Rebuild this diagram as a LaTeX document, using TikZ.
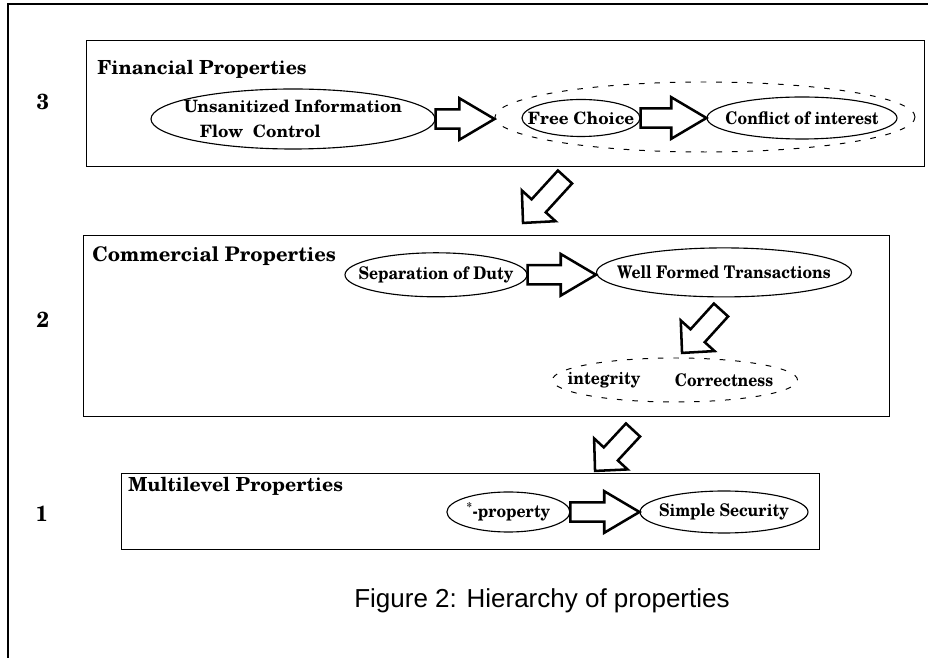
\documentclass[tikz,border=0pt]{standalone}
\usepackage{fontspec}
\usetikzlibrary{shapes.geometric,calc}
\newfontfamily\capfont{Liberation Sans}
\newfontfamily\schola{TeX Gyre Schola}
\newfontfamily\scholanarrow{TeX Gyre Schola}[FakeStretch=0.9]

\tikzset{
  box/.style={draw, line width=1pt, inner sep=0pt, anchor=north west},
  title/.style={font=\schola\bfseries\fontsize{13.8}{17}\selectfont, inner sep=0pt, anchor=base west},
  level/.style={font=\schola\bfseries\fontsize{15.5}{19}\selectfont, inner sep=0pt},
  oval/.style={ellipse, draw, line width=0.8pt, inner sep=-0.7cm, font=\scholanarrow\bfseries\fontsize{12.4}{17.8}\selectfont},
  wide/.style={font=\schola\bfseries\fontsize{12.1}{17.8}\selectfont},
  word/.style={font=\scholanarrow\bfseries\fontsize{12.4}{17.8}\selectfont, inner sep=0pt},
  group/.style={ellipse, draw, line width=0.7pt, dash pattern=on 4pt off 7pt, inner sep=0pt},
  fat/.style n args={2}{draw, fill=white, line width=1.8pt, line join=miter,
    to path={let \p1=(\tikztostart), \p2=(\tikztotarget),
      \n1={atan2(\y2-\y1,\x2-\x1)}, \n2={veclen(\x2-\x1,\y2-\y1)} in
      ([shift={(\p1)},rotate=\n1]0pt,0.24cm) -- ([shift={(\p1)},rotate=\n1]\n2-#1,0.24cm)
      -- ([shift={(\p1)},rotate=\n1]\n2-#1,#2) -- ([shift={(\p1)},rotate=\n1]\n2,0pt)
      -- ([shift={(\p1)},rotate=\n1]\n2-#1,-#2) -- ([shift={(\p1)},rotate=\n1]\n2-#1,-0.24cm)
      -- ([shift={(\p1)},rotate=\n1]0pt,-0.24cm) -- cycle}},
  hfat/.style={fat={0.88cm}{0.52cm}},
  dfat/.style={fat={0.58cm}{0.57cm}},
}

\begin{document}
\begin{tikzpicture}
    \useasboundingbox (0,0) rectangle (23.2,16.45);
    % % ----- frame ----- % %
    \draw [line width=1pt] (0.2,0) -- (0.2,16.35) -- (23.2,16.35);
    % % ----- levels ----- % %
    \node [box, minimum width=20.95cm, minimum height=3.15cm] (fin) at (2.15,15.45) {};	% level 3
    \node [box, minimum width=20.15cm, minimum height=4.525cm] (com) at (2.075,10.575) {};	% level 2
    \node [box, minimum width=17.45cm, minimum height=1.9cm] (mul) at (3.025,4.625) {};	% level 1
    \node [title] (fint) at (2.425,14.575) {Financial Properties};
    \node [title, font=\schola\bfseries\fontsize{14.3}{17}\selectfont] (comt) at (2.3,9.9) {Commercial Properties};
    \node [title] (mult) at (3.2,4.15) {Multilevel Properties};
    \node [level] (n3) at (1.075,13.9) {3};
    \node [level] (n2) at (1.075,8.45) {2};
    \node [level] (n1) at (1.05,3.6) {1};
    % % ----- properties ----- % %
    \node [group, minimum width=10.5cm, minimum height=1.75cm] (grp3) at (17.625,13.525) {};
    \node [oval, wide, align=left, minimum width=7.1cm, minimum height=1.5cm] (uifc) at (7.325,13.475)
        {Unsanitized Information\\\hspace*{0.4cm}Flow\ \ Control};
    \node [oval, wide, minimum width=2.95cm, minimum height=0.925cm] (fc) at (14.525,13.5) {Free Choice};
    \node [oval, minimum width=4.75cm, minimum height=1.05cm] (coi) at (20.05,13.5) {Conflict of interest};
    \node [oval, minimum width=4.55cm, minimum height=1.1cm] (sod) at (10.9,9.58) {Separation of Duty};
    \node [oval, minimum width=6.375cm, minimum height=1.225cm] (wft) at (18.1,9.64) {Well Formed Transactions};
    \node [group, minimum width=6.125cm, minimum height=1.1cm] (grp2) at (16.875,6.95) {};
    \node [word] (int) at (15.1,6.95) {integrity};
    \node [word] (cor) at (18.1,6.95) {Correctness};
    \node [oval, minimum width=3.075cm, minimum height=1.0cm] (star) at (12.71,3.65) {\textsuperscript{*}-property};
    \node [oval, minimum width=4.2cm, minimum height=1.05cm] (ss) at (18.1,3.65) {Simple Security};
    % % ----- arrows ----- % %
    \coordinate (d3s) at (14.125,12.025);	% 3-2 tail
    \coordinate (d3e) at (13.075,10.875);	% 3-2 tip
    \coordinate (dws) at (18.025,8.7);		% wft tail
    \coordinate (dwe) at (17.05,7.625);		% wft tip
    \coordinate (d2s) at (15.825,5.7);		% 2-1 tail
    \coordinate (d2e) at (14.875,4.675);	% 2-1 tip
    \draw [hfat] (uifc.east) to (uifc.east -| grp3.west);	% uifc-group
    \draw [hfat] (fc.east) to (coi.west);		% fc-coi
    \draw [hfat] (sod.east) to (sod.east -| wft.west);	% sod-wft
    \draw [hfat] (star.east) to (ss.west);		% star-ss
    \draw [dfat] (d3s) to (d3e);	% 3-2
    \draw [dfat] (dws) to (dwe);	% wft-group
    \draw [dfat] (d2s) to (d2e);	% 2-1
    % % ----- caption ----- % %
    \node [font=\capfont\fontsize{18.5}{22}\selectfont] (cap) at (13.55,1.425) {Figure 2: Hierarchy of properties};
\end{tikzpicture}
\end{document}
